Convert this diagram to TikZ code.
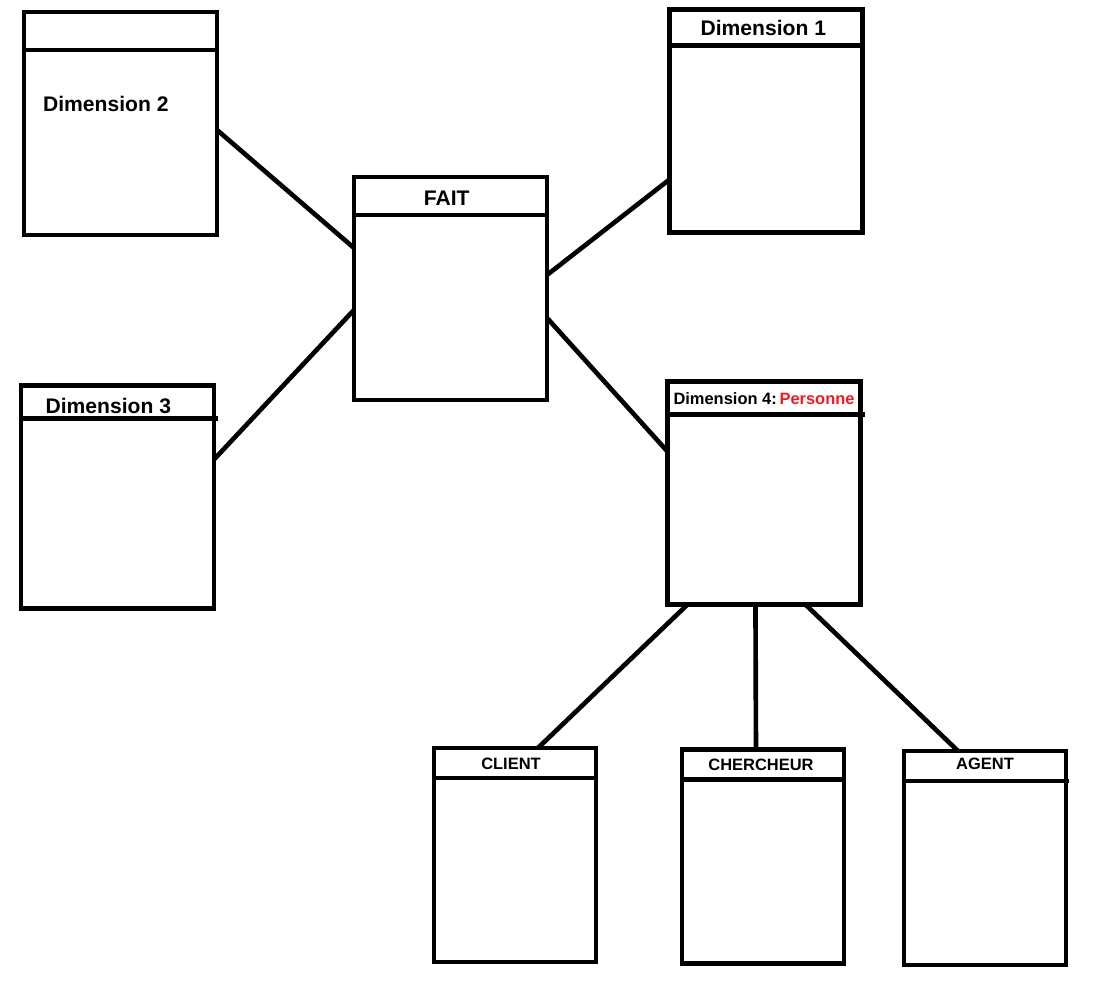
\documentclass[tikz,border=0pt]{standalone}
\usepackage{fontspec}
\setmainfont{Liberation Sans}
\usetikzlibrary{calc}
\definecolor{paintred}{RGB}{237,28,36}

\begin{document}
\begin{tikzpicture}[x=0.025cm,y=-0.025cm]
    \tikzset{table/.style = {draw, line width=3.3pt, inner sep=0pt, outer sep=0pt, minimum width=4.825cm, minimum height=5.575cm}}
    \tikzset{small/.style = {table, minimum width=4.05cm, minimum height=5.35cm}}
    \tikzset{title/.style = {font=\fontsize{15}{18}\selectfont\bfseries, inner sep=0pt}}
    \tikzset{subtitle/.style = {font=\fontsize{11.7}{14}\selectfont\bfseries, inner sep=0pt}}
    \tikzset{link/.style = {line width=3.3pt}}

    \useasboundingbox (0,0) rectangle (1096,988);

    \node[table] (dimtwo) at (120.5, 123.5) {};
    \node[table] (fait) at (450.5, 288.5) {};
    \node[table] (dimone) at (766, 121) {};
    \node[table] (dimthree) at (117.5, 497) {};
    \node[table] (dimfour) at (764, 493) {};
    \node[small] (client) at (515, 855) {};
    \node[small] (chercheur) at (763, 856.5) {};
    \node[small] (agent) at (985, 858) {};

    % header lines
    \draw[link] ($(dimtwo.north west)+(0,38)$) -- ($(dimtwo.north east)+(0,38)$);
    \draw[link] ($(fait.north west)+(0,38)$) -- ($(fait.north east)+(2,38)$);
    \draw[link] ($(dimone.north west)+(0,36)$) -- ($(dimone.north east)+(0,36)$);
    \draw[link] ($(dimthree.north west)+(0,33)$) -- ($(dimthree.north east)+(4,33)$);
    \draw[link] ($(dimfour.north west)+(0,33)$) -- ($(dimfour.north east)+(4,33)$);
    \draw[link] ($(client.north west)+(0,30)$) -- ($(client.north east)+(0,30)$);
    \draw[link] ($(chercheur.north west)+(0,30)$) -- ($(chercheur.north east)+(0,30)$);
    \draw[link] ($(agent.north west)+(0,30)$) -- ($(agent.north east)+(3,30)$);

    \node[title] (dimtwot) at (105.8, 103.5) {Dimension 2};
    \node[title] (faitt) at (446.7, 198) {FAIT};
    \node[title] (dimonet) at (763.3, 27.5) {Dimension 1};
    \node[title] (dimthreet) at (108.3, 405.5) {Dimension 3};
    \node[subtitle] (dimfourt) at (764, 398.5) {Dimension 4:\,\textcolor{paintred}{Personne}};
    \node[subtitle] (clientt) at (511, 763.5) {CLIENT};
    \node[subtitle] (chercheurt) at (761, 765) {CHERCHEUR};
    \node[subtitle] (agentt) at (985, 764) {AGENT};

    \draw[link] ($(dimtwo.north east)+(0,118)$) -- ($(fait.north west)+(0,71)$);
    \draw[link] ($(dimthree.north east)+(0,74)$) -- ($(fait.north west)+(0,133)$);
    \draw[link] ($(fait.north east)+(0,98)$) -- ($(dimone.north west)+(0,170)$);
    \draw[link] ($(fait.north east)+(0,141)$) -- ($(dimfour.north west)+(0,70)$);
    \draw[link] ($(dimfour.south west)+(20,0)$) -- ($(client.north west)+(104,0)$);
    \draw[link] ($(dimfour.south west)+(88,0)$) -- ($(chercheur.north west)+(74,0)$);
    \draw[link] ($(dimfour.south west)+(138,0)$) -- ($(agent.north west)+(54,0)$);

  \end{tikzpicture}
\end{document}
